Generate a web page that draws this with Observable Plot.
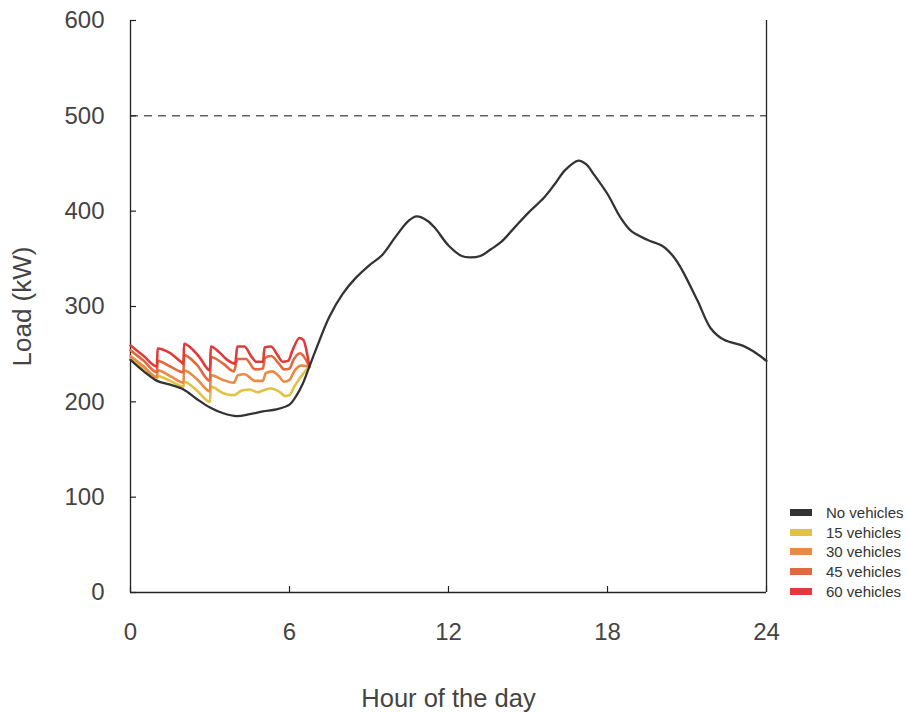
<!DOCTYPE html>
<html><head><meta charset="utf-8">
<script src="https://cdn.jsdelivr.net/npm/d3@7"></script>
<script src="https://cdn.jsdelivr.net/npm/@observablehq/plot@0.6"></script>
<style>
body{margin:0;background:#fff;}
#wrap{position:relative;width:907px;height:712px;}
#legend{position:absolute;left:790px;top:503px;font-family:"Liberation Sans",Arial,sans-serif;font-size:15px;color:#333;}
.row{display:flex;align-items:center;height:19.6px;}
.sw{width:22px;height:7px;margin-right:14px;}
</style></head><body><div id="wrap"><div id="legend"></div></div>
<script>
const seriesNames = ["No vehicles", "15 vehicles", "30 vehicles", "45 vehicles", "60 vehicles"];
const seriesColors = ["#333333", "#e3c146", "#e98b46", "#e4683f", "#e03b3a"];
const xTicks = [0, 6, 12, 18, 24];
const yTicks = [0, 100, 200, 300, 400, 500, 600];
const limitLoad = 500;
const xLabel = "Hour of the day";
const yLabel = "Load (kW)";

const blackHours = [0, 0.5, 1, 1.5, 2, 2.5, 3, 3.5, 4, 4.5, 5, 5.5, 6, 6.25, 6.5, 6.75, 7, 7.5, 8, 8.5, 9, 9.5, 10, 10.5, 10.8, 11.2, 11.5, 12, 12.5, 12.8, 13.2, 13.6, 14, 14.5, 15, 15.6, 16, 16.4, 16.9, 17.2, 17.5, 18, 18.5, 18.9, 19.5, 20.1, 20.5, 20.8, 21.4, 21.9, 22.4, 23.1, 23.5, 24];
const blackLoad = [244, 232, 222, 218, 213, 203, 194, 188, 185, 187, 190, 192, 197, 206, 219, 237, 255, 289, 313, 330, 343, 354, 373, 390, 394.5, 390, 382, 364, 353, 351.5, 353, 360, 368, 383, 398, 414, 428, 443, 453, 449, 438, 418, 393, 379, 370, 363, 352, 339, 306, 277, 265, 259, 253, 243];

const v15Hours = [0, 0.5, 1.0, 1.02, 1.5, 2.0, 2.02, 2.5, 3.0, 3.03, 3.5, 3.9, 4.2, 4.5, 4.8, 5.0, 5.3, 5.6, 5.85, 6.0, 6.2, 6.5, 6.75];
const v15Load  = [245, 235, 224, 227, 222, 216, 221, 212, 200, 216, 209, 207, 212, 213, 210, 212, 214, 211, 206, 207, 217, 229, 237];

const v30Hours = [0, 0.5, 1.0, 1.02, 1.5, 2.0, 2.02, 2.5, 3.0, 3.03, 3.5, 3.9, 4.05, 4.3, 4.7, 5.0, 5.1, 5.35, 5.6, 5.8, 6.0, 6.2, 6.45, 6.75];
const v30Load  = [248, 237, 226, 233, 227, 220, 233, 224, 211, 228, 223, 220, 228, 229, 222, 222, 230, 232, 227, 221, 223, 233, 238, 237];

const v45Hours = [0, 0.5, 1.0, 1.02, 1.5, 2.0, 2.02, 2.5, 3.0, 3.03, 3.5, 3.9, 4.04, 4.35, 4.7, 5.0, 5.07, 5.3, 5.6, 5.8, 6.0, 6.15, 6.4, 6.5, 6.75];
const v45Load  = [254, 243, 231, 243, 237, 231, 249, 239, 222, 247, 240, 232, 245, 245, 234, 235, 246, 248, 240, 234, 235, 244, 251, 249, 237];

const v60Hours = [0, 0.5, 1.0, 1.02, 1.5, 1.9, 2.0, 2.02, 2.3, 2.6, 3.0, 3.03, 3.35, 3.65, 3.95, 4.03, 4.3, 4.55, 4.75, 5.0, 5.06, 5.3, 5.55, 5.75, 5.95, 6.1, 6.38, 6.52, 6.75];
const v60Load  = [259, 248, 237, 256, 251, 242, 240, 261, 256, 247, 233, 258, 252, 244, 240, 258, 258, 248, 242, 242, 257, 258, 249, 242, 243, 253, 267, 265, 237];

const black = blackHours.map((h, i) => ({series: seriesNames[0], hour: h, load: blackLoad[i]}));
const colored = [];
[[v15Hours, v15Load], [v30Hours, v30Load], [v45Hours, v45Load], [v60Hours, v60Load]].forEach(([hs, ls], k) => {
  hs.forEach((h, i) => colored.push({series: seriesNames[k + 1], hour: h, load: ls[i]}));
});

const font = '"Liberation Sans", Arial, sans-serif';
const chart = Plot.plot({
  width: 907, height: 712,
  marginLeft: 130, marginRight: 141, marginTop: 20, marginBottom: 120,
  style: {fontFamily: font, background: "#fff"},
  x: {domain: [0, 24]},
  y: {domain: [0, 600]},
  color: {domain: seriesNames, range: seriesColors},
  marks: [
    Plot.ruleY([limitLoad], {stroke: "#111", strokeWidth: 1, strokeDasharray: "8,6"}),
    Plot.ruleX([0, 24], {stroke: "#222", strokeWidth: 1.3}),
    Plot.ruleY([0], {stroke: "#222", strokeWidth: 1.3}),
    Plot.tickY(yTicks, {y: d => d, insetRight: 630, stroke: "#222", strokeWidth: 1.2}),
    Plot.tickX(xTicks, {x: d => d, insetTop: 566, stroke: "#222", strokeWidth: 1.2}),
    Plot.line(colored, {x: "hour", y: "load", z: "series", stroke: "series", strokeWidth: 2.6, curve: "monotone-x"}),
    Plot.line(black, {x: "hour", y: "load", stroke: seriesColors[0], strokeWidth: 2.3, curve: "catmull-rom"}),
    Plot.axisY({ticks: yTicks, tickSize: 0, tickPadding: 26, fontSize: 24, fill: "#444", label: null}),
    Plot.axisX({ticks: xTicks, tickSize: 0, tickPadding: 30, fontSize: 24, fill: "#444", label: null}),
    Plot.text([yLabel], {frameAnchor: "left", textAnchor: "middle", lineAnchor: "middle", dx: -108, rotate: -90, fontSize: 26, fill: "#444"}),
    Plot.text([xLabel], {frameAnchor: "bottom", textAnchor: "middle", lineAnchor: "middle", dy: 106, fontSize: 25.5, fill: "#444"})
  ]
});
document.getElementById("wrap").prepend(chart);

const legend = document.getElementById("legend");
seriesNames.forEach((name, i) => {
  const row = document.createElement("div");
  row.className = "row";
  const sw = document.createElement("span");
  sw.className = "sw";
  sw.style.background = seriesColors[i];
  const t = document.createElement("span");
  t.textContent = name;
  row.appendChild(sw); row.appendChild(t);
  legend.appendChild(row);
});
</script>
</body></html>
